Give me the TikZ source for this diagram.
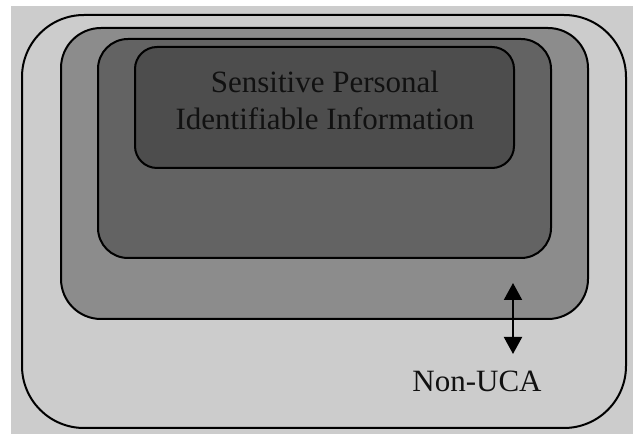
\documentclass[tikz,border=0pt]{standalone}
\usepackage{fontspec}
\setmainfont{Liberation Serif}
\usetikzlibrary{arrows.meta}
\definecolor{bgc}{HTML}{CCCCCC}
\definecolor{lv1}{HTML}{CCCCCC}
\definecolor{lv2}{HTML}{8C8C8C}
\definecolor{lv3}{HTML}{636363}
\definecolor{lv4}{HTML}{4D4D4D}
\definecolor{txt}{HTML}{111111}
\begin{document}
\begin{tikzpicture}[x=1pt,y=1pt,
  zone/.style={draw=black, line width=2pt},
  lbl/.style={text=txt, inner sep=0pt, font=\fontsize{31}{37}\selectfont}]
\useasboundingbox (0,0) rectangle (633,434);
\fill[white] (0,0) rectangle (633,434);
\fill[bgc] (11,0) rectangle (633,428);
\draw[zone, fill=lv1, rounded corners=62pt] (22,6) rectangle (626,419);
\draw[zone, fill=lv2, rounded corners=40pt] (61,115) rectangle (588,406);
\draw[zone, fill=lv3, rounded corners=30pt] (98,176) rectangle (551,395);
\draw[zone, fill=lv4, rounded corners=22pt] (135,266) rectangle (514,387);
\node[lbl, align=center, anchor=base] (spii) at (325,304) {Sensitive Personal\\Identifiable Information};
\node[lbl, anchor=base] (nonuca) at (477,42) {Non-UCA};
\coordinate (atop) at (513,151);
\coordinate (abot) at (513,80);
\draw[line width=2pt, {Triangle[width=18pt,length=17pt]}-{Triangle[width=18pt,length=17pt]}] (atop) -- (abot);
\end{tikzpicture}
\end{document}
